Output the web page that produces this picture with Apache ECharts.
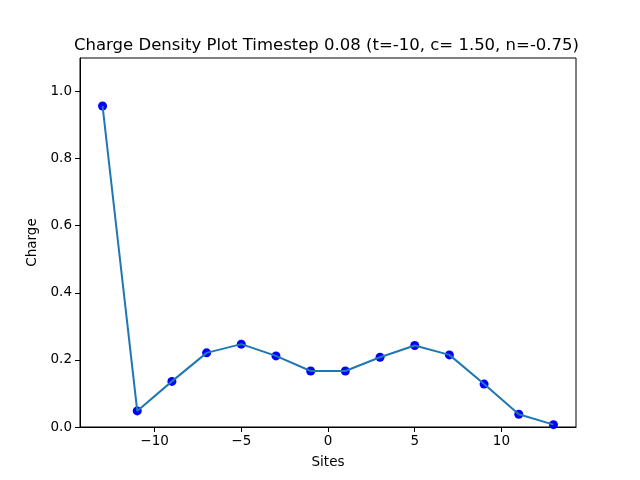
<!DOCTYPE html>
<html>
<head>
<meta charset="utf-8">
<script src="https://cdn.jsdelivr.net/npm/echarts@6/dist/echarts.min.js"></script>
<style>html,body{margin:0;padding:0;background:#fff;}#c{width:640px;height:480px;}</style>
</head>
<body>
<div id="c"></div>
<script>
const sites = [-13, -11, -9, -7, -5, -3, -1, 1, 3, 5, 7, 9, 11, 13];
const charge = [0.957, 0.048, 0.136, 0.221, 0.247, 0.212, 0.167, 0.167, 0.208, 0.243, 0.215, 0.128, 0.038, 0.007];
const xTicks = [-10, -5, 0, 5, 10];
const yTicks = [0.0, 0.2, 0.4, 0.6, 0.8, 1.0];

const pts = sites.map((s, i) => [s, charge[i]]);
const font = 'DejaVu Sans';
const chart = echarts.init(document.getElementById('c'), null, {renderer: 'canvas'});
chart.setOption({
  animation: false,
  backgroundColor: '#ffffff',
  title: {
    text: 'Charge Density Plot Timestep 0.08 (t=-10, c= 1.50, n=-0.75)',
    left: 69, top: 32,
    textStyle: {fontFamily: font, fontSize: 16.5, fontWeight: 'normal', color: '#000'}
  },
  grid: {left: 80, right: 64, top: 58, bottom: 53, show: true, borderColor: '#000', borderWidth: 1},
  xAxis: {
    type: 'value', min: -14.3, max: 14.3,
    name: 'Sites', nameLocation: 'middle', nameGap: 28,
    nameTextStyle: {fontFamily: font, fontSize: 13.5, color: '#000'},
    axisLine: {show: true, onZero: false, lineStyle: {color: '#000'}},
    axisTick: {show: true, length: 5, lineStyle: {color: '#000'}, customValues: xTicks},
    axisLabel: {fontFamily: font, fontSize: 13.5, color: '#000', margin: 7, customValues: xTicks,
      formatter: v => (v < 0 ? '\u2212' + Math.abs(v) : String(v))},
    splitLine: {show: false}
  },
  yAxis: {
    type: 'value', min: 0, max: 1.1,
    name: 'Charge', nameLocation: 'middle', nameGap: 38,
    nameTextStyle: {fontFamily: font, fontSize: 13.5, color: '#000'},
    axisLine: {show: true, onZero: false, lineStyle: {color: '#000'}},
    axisTick: {show: true, length: 5, lineStyle: {color: '#000'}, customValues: yTicks},
    axisLabel: {fontFamily: font, fontSize: 13.5, color: '#000', margin: 8, customValues: yTicks,
      formatter: v => v.toFixed(1)},
    splitLine: {show: false}
  },
  series: [
    {type: 'scatter', data: pts, symbol: 'circle', symbolSize: 9, z: 2,
     itemStyle: {color: '#0000ff', opacity: 1}},
    {type: 'line', data: pts, showSymbol: false, symbol: 'none', z: 3,
     lineStyle: {color: '#1f77b4', width: 2}}
  ]
});
</script>
</body>
</html>
